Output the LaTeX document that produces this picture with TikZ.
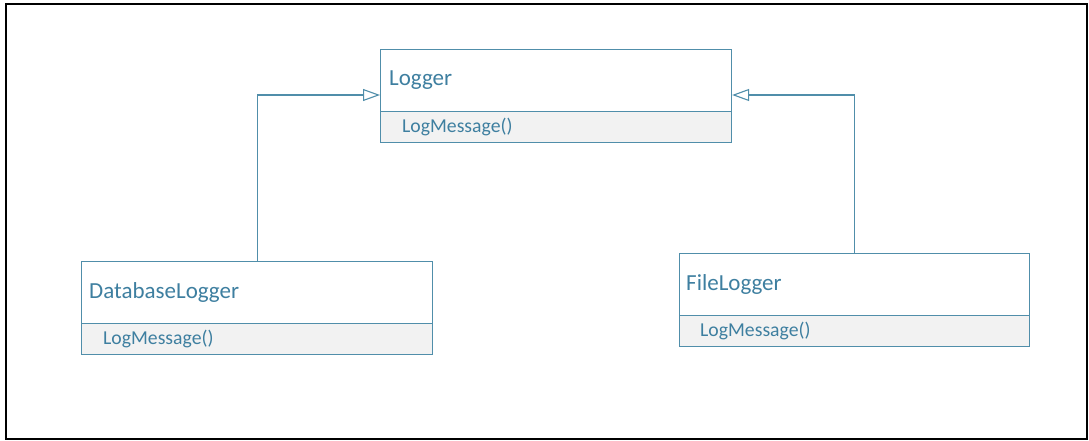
\documentclass[tikz,border=0pt]{standalone}
\usepackage{fontspec}
\setmainfont{Carlito}
\usetikzlibrary{arrows.meta}
\definecolor{umlblue}{RGB}{80,142,170}
\definecolor{umltext}{RGB}{62,127,160}
\definecolor{methfill}{RGB}{242,242,242}
\begin{document}
\begin{tikzpicture}[x=1pt,y=-1pt,
  titlebox/.style={draw=umlblue,line width=1.1pt,fill=white,anchor=north west,minimum width=351pt,minimum height=62pt,inner sep=0pt},
  methbox/.style={draw=umlblue,line width=1.1pt,fill=methfill,anchor=north west,minimum width=351pt,minimum height=31pt,inner sep=0pt},
  titletext/.style={anchor=west,text=umltext,font=\fontsize{23}{26}\selectfont,inner sep=0pt},
  methtext/.style={anchor=west,text=umltext,font=\fontsize{19.7}{22}\selectfont,inner sep=0pt},
  inherit/.style={draw=umlblue,line width=1.1pt,-{Triangle[open,length=17pt,width=12pt,fill=white]}}
]
\useasboundingbox (0,0) rectangle (1089,441);
\draw[line width=2pt,black] (6,4) rectangle (1087,439);

% Logger
\node[titlebox] (L) at (380,49) {};
\node[methbox] (Lm) at (380,111) {};
\node[titletext] (Lt) at ([xshift=9pt]L.west) {Logger};
\node[methtext] (Lmt) at ([xshift=22pt]Lm.west) {LogMessage()};

% DatabaseLogger
\node[titlebox] (D) at (81,261) {};
\node[methbox] (Dm) at (81,323) {};
\node[titletext] (Dt) at ([xshift=8pt]D.west) {DatabaseLogger};
\node[methtext] (Dmt) at ([xshift=22pt]Dm.west) {LogMessage()};

% FileLogger
\node[titlebox,minimum width=350pt] (F) at (679,253) {};
\node[methbox,minimum width=350pt] (Fm) at (679,315) {};
\node[titletext] (Ft) at ([xshift=7pt]F.west) {FileLogger};
\node[methtext] (Fmt) at ([xshift=21pt]Fm.west) {LogMessage()};

\coordinate (Lin) at ([yshift=-46pt]L.north west);
\coordinate (Rin) at ([yshift=-46pt]L.north east);

\draw[inherit] (D.north) |- (Lin);
\draw[inherit] (F.north) |- (Rin);
\end{tikzpicture}
\end{document}
